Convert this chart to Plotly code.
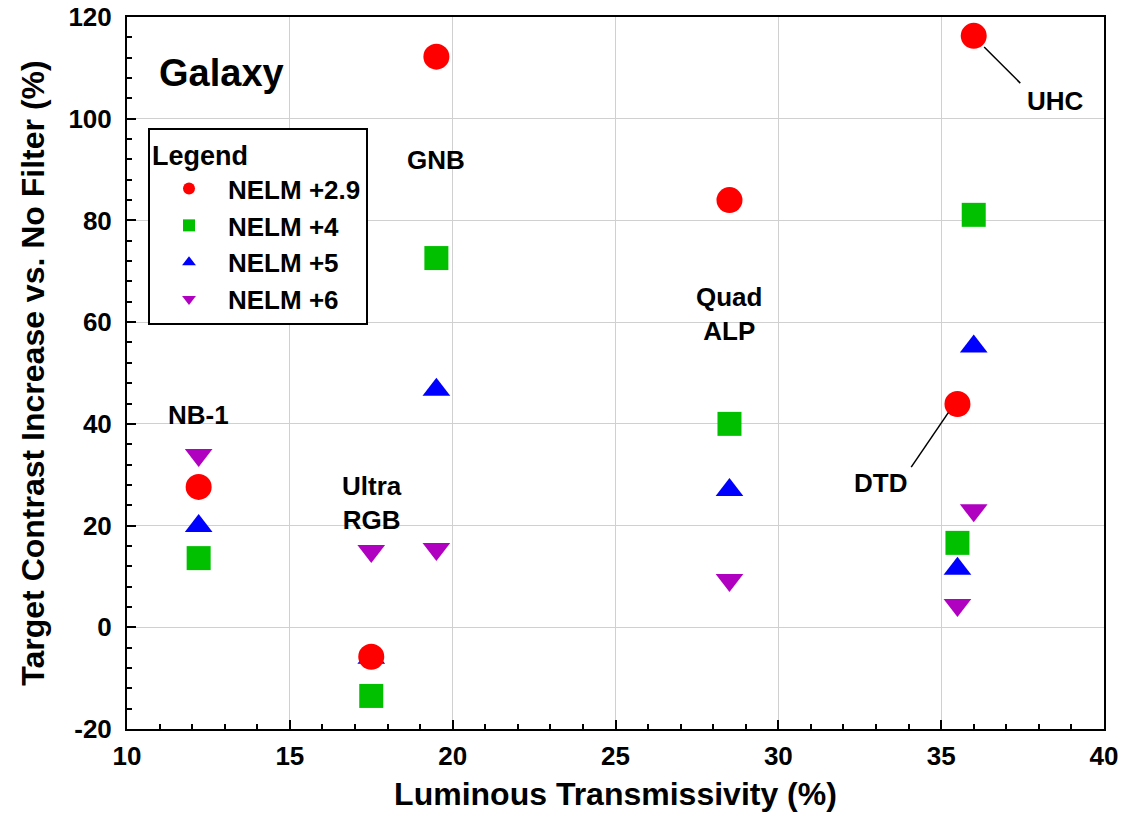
import plotly.graph_objects as go

# Data
filters = ["NB-1", "Ultra RGB", "GNB", "Quad ALP", "DTD", "UHC"]
transmissivity = [12.2, 17.5, 19.5, 28.5, 35.5, 36.0]
nelm_29 = [27.6, -5.8, 112.2, 84.0, 43.9, 116.3]
nelm_4 = [13.6, -13.5, 72.6, 40.0, 16.6, 81.1]
nelm_5 = [19.9, -6.0, 46.7, 27.0, 11.5, 55.2]
nelm_6 = [33.9, 15.0, 15.4, 9.3, 4.4, 23.0]

x_ticks = [10, 15, 20, 25, 30, 35, 40]
x_ticklabels = ["10", "15", "20", "25", "30", "35", "40"]
y_ticks = [-20, 0, 20, 40, 60, 80, 100, 120]
y_ticklabels = ["-20", "0", "20", "40", "60", "80", "100", "120"]

series = [
    ("NELM +2.9", nelm_29, "circle", "#ff0000", 26),
    ("NELM +4", nelm_4, "square", "#00c000", 24),
    ("NELM +5", nelm_5, "triangle-up", "#0000ff", 24),
    ("NELM +6", nelm_6, "triangle-down", "#b000c0", 24),
]

FONT = "Liberation Sans, Arial, sans-serif"

fig = go.Figure()
# add in reverse so red circles are drawn on top; legend reversed to keep order
for name, vals, sym, col, size in reversed(series):
    fig.add_trace(go.Scatter(
        x=transmissivity, y=vals, mode="markers", name=name,
        marker=dict(symbol=sym, color=col, size=size, line=dict(width=0)),
    ))

txt = dict(family=FONT, size=26, color="black", weight="bold")
annotations = [
    dict(x=12.2, y=41.7, text="NB-1", showarrow=False, font=txt),
    dict(x=17.53, y=24.4, text="Ultra<br>RGB", showarrow=False, font=txt),
    dict(x=19.5, y=91.9, text="GNB", showarrow=False, font=txt),
    dict(x=28.48, y=61.6, text="Quad<br>ALP", showarrow=False, font=txt),
    dict(x=33.13, y=28.4, text="DTD", showarrow=False, font=txt),
    dict(x=38.52, y=103.5, text="UHC", showarrow=False, font=txt),
    dict(x=12.9, y=109, text="Galaxy", showarrow=False,
         font=dict(family=FONT, size=38, color="black", weight="bold")),
]

shapes = [
    dict(type="line", xref="x", yref="y", x0=36.32, y0=114.1, x1=37.43, y1=107.0,
         line=dict(color="black", width=1.5)),
    dict(type="line", xref="x", yref="y", x0=35.22, y0=42.2, x1=34.08, y1=31.5,
         line=dict(color="black", width=1.5)),
]

axis_common = dict(
    showline=True, linecolor="black", linewidth=2, mirror=True,
    showgrid=True, gridcolor="#d0d0d0", gridwidth=1,
    ticks="inside", ticklen=9, tickwidth=1.5, tickcolor="black",
    zeroline=False, automargin=False, tickmode="array",
    tickfont=dict(family=FONT, size=26, color="black", weight="bold"),
)

fig.update_xaxes(
    range=[10, 40], tickvals=x_ticks, ticktext=x_ticklabels, ticklabelstandoff=3,
    minor=dict(tickmode="linear", tick0=10, dtick=1, ticks="inside", ticklen=5,
               tickcolor="black", showgrid=False),
    title=dict(text="Luminous Transmissivity (%)", standoff=12,
               font=dict(family=FONT, size=32, color="black", weight="bold")),
    **axis_common,
)
fig.update_yaxes(
    range=[-20, 120], tickvals=y_ticks, ticktext=y_ticklabels, ticklabelstandoff=8,
    minor=dict(tickmode="linear", tick0=0, dtick=4, ticks="inside", ticklen=5,
               tickcolor="black", showgrid=False),
    title=dict(text="Target Contrast Increase vs. No Filter (%)", standoff=14,
               font=dict(family=FONT, size=32, color="black", weight="bold")),
    **axis_common,
)

fig.update_layout(
    width=1127, height=813,
    margin=dict(l=127, r=23, t=17, b=84),
    paper_bgcolor="white", plot_bgcolor="white",
    font=dict(family=FONT, color="black"),
    annotations=annotations,
    shapes=shapes,
    legend=dict(
        title=dict(text="Legend", font=dict(family=FONT, size=27, weight="bold")),
        font=dict(family=FONT, size=26, color="black", weight="bold"),
        x=0.0215, y=0.844, xanchor="left", yanchor="top",
        bgcolor="white", bordercolor="black", borderwidth=2,
        traceorder="reversed", itemsizing="constant", itemwidth=68,
    ),
)

fig.write_html("out.html")
